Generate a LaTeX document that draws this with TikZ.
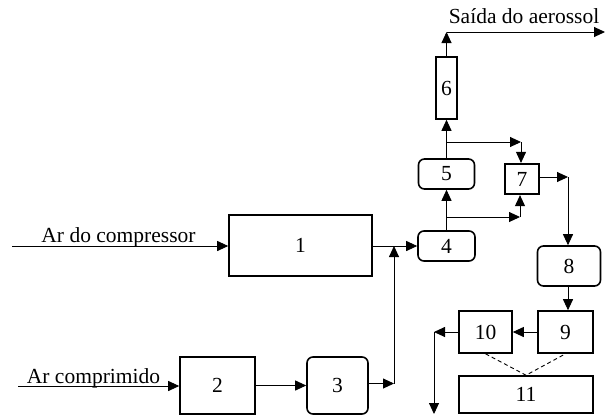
\documentclass[tikz,border=0pt]{standalone}
\usepackage{fontspec}
\setmainfont{Liberation Serif}
\usetikzlibrary{arrows.meta}
\begin{document}
\begin{tikzpicture}[x=1pt,y=-1pt,
  font=\fontsize{21.5}{24}\selectfont,
  box/.style={draw,line width=1.6pt,inner sep=0pt},
  rbox/.style={box,rounded corners=6pt},
  flow/.style={line width=0.9pt,-{Triangle[length=11pt,width=10pt]}},
  link/.style={line width=0.9pt},
  lbl/.style={anchor=base,inner sep=0pt}]
\useasboundingbox (0,0) rectangle (609,416);
% process blocks
\node[box,minimum width=143pt,minimum height=61pt] (b1) at (300.5,245.5) {1};
\node[box,minimum width=75pt,minimum height=57pt] (b2) at (217.5,385.5) {2};
\node[rbox,minimum width=61pt,minimum height=57pt] (b3) at (337.5,385.5) {3};
\node[rbox,minimum width=57pt,minimum height=30pt] (b4) at (446.5,246) {4};
\node[rbox,minimum width=56pt,minimum height=30pt] (b5) at (446.5,174) {5};
\node[box,minimum width=21pt,minimum height=62pt] (b6) at (446.5,88) {6};
\node[box,line width=2.2pt,minimum width=34pt,minimum height=30pt] (b7) at (522,179) {7};
\node[rbox,minimum width=63pt,minimum height=40pt] (b8) at (569,266) {8};
\node[box,minimum width=55pt,minimum height=42pt] (b9) at (565.5,332) {9};
\node[box,minimum width=53pt,minimum height=42pt] (b10) at (485.5,332) {10};
\node[box,minimum width=134pt,minimum height=37pt] (b11) at (526,394.5) {11};
% labels
\node[lbl] (tcomp) at (118.5,242) {Ar do compressor};
\node[lbl] (tcompr) at (93.5,383) {Ar comprimido};
\node[lbl] (tsaida) at (524,23) {Saída do aerossol};
% free ends and junctions
\coordinate (in1) at (12,246);
\coordinate (in2) at (18,386);
\coordinate (j3) at (394,383.5);
\coordinate (j14) at (394,246);
\coordinate (ja) at (446.5,217);
\coordinate (ka) at (520,217);
\coordinate (jb) at (446.5,142);
\coordinate (kb) at (521,142);
\coordinate (top) at (446.5,32);
\coordinate (out) at (605,32);
\coordinate (k7) at (568,177);
\coordinate (k10) at (434,332);
\coordinate (dn) at (434,414);
% connectors
\draw[flow] (in1) -- (b1.west |- in1);
\draw[flow] (in2) -- (b2.west |- in2);
\draw[flow] (b2.east |- b3) -- (b3.west);
\draw[flow] (b3.east |- j3) -- (j3);
\draw[flow] (j3) -- (j14);
\draw[flow] (b1.east |- j14) -- (b4.west |- j14);
\draw[flow] (b4.north) -- (b5.south);
\draw[flow] (ja) -- (ka);
\draw[flow] (ka) -- (ka |- b7.south);
\draw[flow] (b5.north) -- (b6.south);
\draw[flow] (jb) -- (kb);
\draw[flow] (kb) -- (kb |- b7.north);
\draw[flow] (b6.north) -- (top);
\draw[flow] (top) -- (out);
\draw[flow] (b7.east |- k7) -- (k7);
\draw[flow] (k7) -- (k7 |- b8.north);
\draw[flow] (k7 |- b8.south) -- (k7 |- b9.north);
\draw[flow] (b9.west) -- (b10.east);
\draw[flow] (b10.west) -- (k10);
\draw[flow] (k10) -- (dn);
\draw[link,dashed,dash pattern=on 4pt off 3pt] (b10.south) -- (b11.north) -- (b9.south);
\end{tikzpicture}
\end{document}
